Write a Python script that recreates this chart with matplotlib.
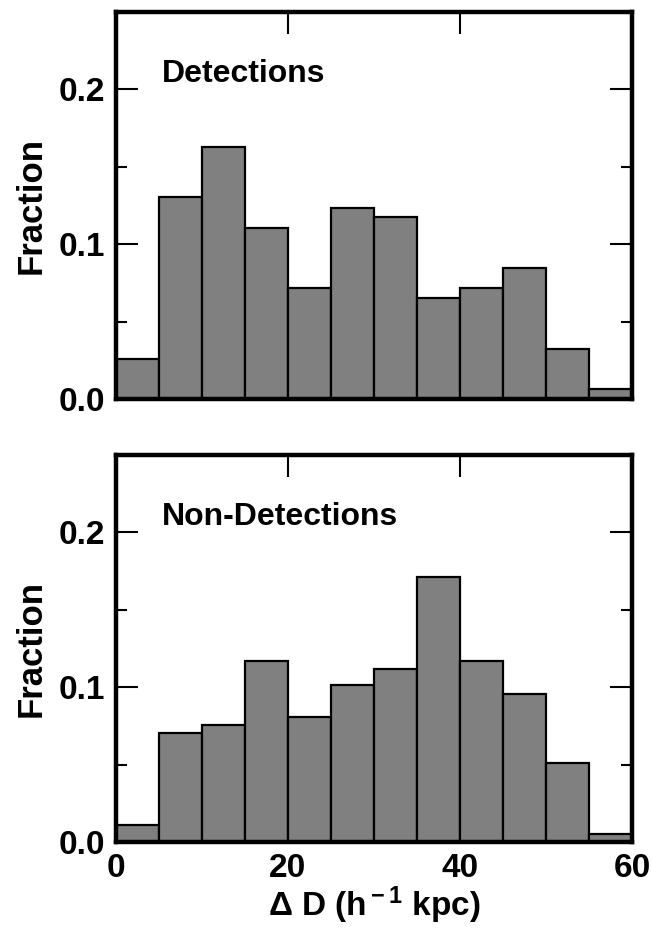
import matplotlib
matplotlib.use("Agg")
import matplotlib.pyplot as plt
import numpy as np

plt.rcParams['font.family'] = ['Liberation Sans', 'DejaVu Sans']
plt.rcParams['font.weight'] = 'bold'
plt.rcParams['mathtext.fontset'] = 'custom'
plt.rcParams['mathtext.rm'] = 'Liberation Sans:bold'
plt.rcParams['mathtext.bf'] = 'Liberation Sans:bold'
plt.rcParams['mathtext.it'] = 'Liberation Sans:bold'

bin_edges = [0, 5, 10, 15, 20, 25, 30, 35, 40, 45, 50, 55, 60]
detections = [0.026, 0.1305, 0.1625, 0.1105, 0.0716, 0.1234, 0.1176, 0.0654, 0.0716, 0.0846, 0.0324, 0.0063]
non_detections = [0.0107, 0.0704, 0.0758, 0.1168, 0.0809, 0.1014, 0.1116, 0.1712, 0.1168, 0.0956, 0.0512, 0.0053]
panel_labels = ["Detections", "Non-Detections"]
x_ticks = [0, 20, 40, 60]
y_ticks = [0.0, 0.1, 0.2]
y_labels = ["0.0", "0.1", "0.2"]

fig = plt.figure(figsize=(6.52, 9.35), dpi=100)
W, H = 652, 935
ax1 = fig.add_axes([116 / W, 1 - 399 / H, (632 - 116) / W, (399 - 12) / H])
ax2 = fig.add_axes([116 / W, 1 - 842 / H, (632 - 116) / W, (842 - 455) / H])

lefts = np.array(bin_edges[:-1])
widths = np.diff(bin_edges)

for ax, vals, lab in zip([ax1, ax2], [detections, non_detections], panel_labels):
    ax.bar(lefts, vals, width=widths, align='edge', color='#808080',
           edgecolor='black', linewidth=1.6, zorder=3)
    ax.set_xlim(0, 60)
    ax.set_ylim(0, 0.25)
    ax.set_xticks(x_ticks)
    ax.set_yticks(y_ticks)
    ax.set_yticklabels(y_labels)
    ax.set_yticks([0.05, 0.15], minor=True)
    ax.tick_params(axis='both', which='major', direction='in', length=16, width=1.5,
                   top=True, right=True, labelsize=24, pad=8)
    ax.tick_params(axis='y', which='minor', direction='in', length=8, width=1.5,
                   left=True, right=True)
    for s in ax.spines.values():
        s.set_linewidth(3.2)
        s.set_zorder(4)
    ax.set_ylabel("Fraction", fontsize=25, fontweight='bold', labelpad=8)
    ax.text(0.088, 0.84, lab, transform=ax.transAxes, fontsize=23, fontweight='bold',
            ha='left', va='center')

ax1.tick_params(axis='x', labelbottom=False)
ax2.set_xlabel(r"Δ D (h$^{\bf -1}$ kpc)", fontsize=24, fontweight='bold', labelpad=0)

fig.savefig("out.png", dpi=100)
